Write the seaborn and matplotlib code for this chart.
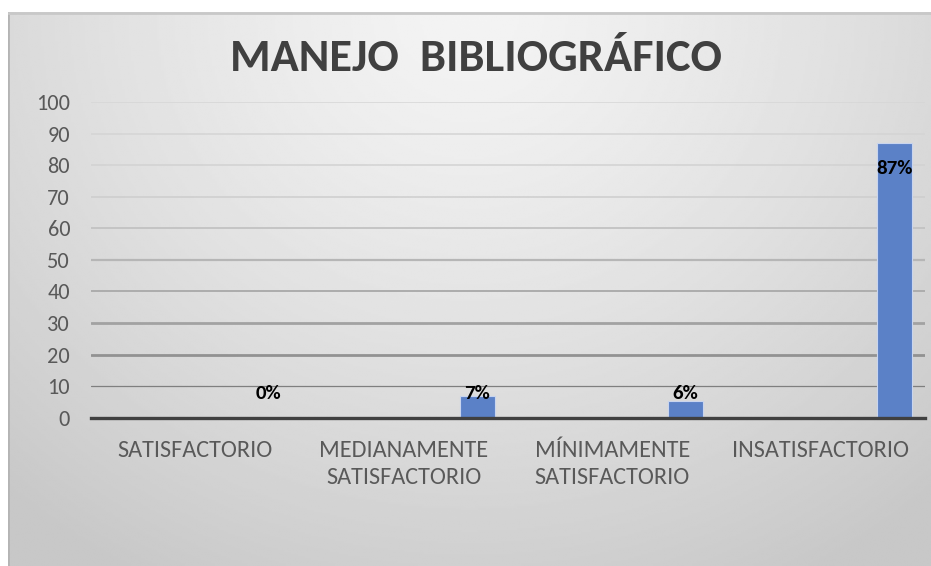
import numpy as np
import pandas as pd
import matplotlib
matplotlib.use('Agg')
import matplotlib.pyplot as plt
import seaborn as sns
from matplotlib import font_manager

# data
categorias = ['SATISFACTORIO', 'MEDIANAMENTE\nSATISFACTORIO',
              'MÍNIMAMENTE\nSATISFACTORIO', 'INSATISFACTORIO']
valores = [0, 7, 5.3, 87]
etiquetas = ['0%', '7%', '6%', '87%']
series = ['Serie 1', 'Serie 2', 'Serie 3', 'Porcentaje']
y_ticks = [0, 10, 20, 30, 40, 50, 60, 70, 80, 90, 100]

df = pd.DataFrame({'categoria': categorias, 'valor': valores,
                   'serie': ['Porcentaje'] * len(categorias)})

sns.set_theme(style='white')
nombres = {f.name for f in font_manager.fontManager.ttflist}
candidatas = ['Carlito', 'Liberation Sans Narrow', 'DejaVu Sans Condensed',
              'Roboto Condensed', 'Open Sans Condensed', 'Lato']
fuente = next((c for c in candidatas if c in nombres), 'DejaVu Sans')
plt.rcParams['font.family'] = [fuente, 'DejaVu Sans']

fig = plt.figure(figsize=(9.31, 5.66), dpi=100)
fig.patch.set_facecolor('white')

# gradient chart background (Excel style)
bg = fig.add_axes([8 / 931, 0, 1 - 8 / 931, (566 - 12) / 566], zorder=0)
xx, yy = np.meshgrid(np.linspace(0, 1, 400), np.linspace(0, 1, 300))
r = np.sqrt(((xx - 0.5) / 0.75) ** 2 + (yy / 1.15) ** 2)
shade = 0.955 - 0.17 * np.clip(r, 0, 1) ** 1.3
bg.imshow(shade, cmap='gray', vmin=0, vmax=1, aspect='auto',
          extent=[0, 1, 1, 0], interpolation='bilinear')
bg.set_xlim(0, 1)
bg.set_ylim(1, 0)
bg.axis('off')
bg.plot([0, 0], [0, 1], color='#b4b4b4', lw=2)
bg.plot([0, 1], [0.002, 0.002], color='#c8c8c8', lw=2)

ax = fig.add_axes([91 / 931, 1 - 417.7 / 566, (925 - 91) / 931, (417.7 - 102) / 566], zorder=1)
ax.set_facecolor('none')

colores = {'Serie 1': '#5b81c7', 'Serie 2': '#ed7d31', 'Serie 3': '#a5a5a5', 'Porcentaje': '#5b81c7'}
sns.barplot(data=df, x='categoria', y='valor', hue='serie', order=categorias,
            hue_order=series, palette=colores, dodge=True, width=0.94, gap=0.285,
            saturation=1, legend=False, edgecolor='#c9d5ee', linewidth=0.8,
            ax=ax, zorder=3)

for p, txt, v in zip(ax.patches, etiquetas, valores):
    ax.text(p.get_x() + p.get_width() / 2, max(v - 8.2, 7.8), txt,
            ha='center', va='center', fontsize=15, fontweight='bold',
            color='black', zorder=5)

ax.set_ylim(0, 100)
ax.set_xlim(-0.5, len(categorias) - 0.5)
ax.set_yticks(y_ticks)
ax.set_xlabel('')
ax.set_ylabel('')
ax.grid(axis='y', zorder=0)
grid_cols = ['#404040', '#7f7f7f', '#929292', '#a2a2a2', '#acacac', '#b6b6b6',
             '#c2c2c2', '#cdcdcd', '#d2d2d2', '#d4d4d4', '#d6d6d6']
grid_lw = [0, 0.9, 2.0, 2.0, 1.4, 1.6, 1.3, 1.1, 1.1, 1.1, 1.1]
for gl, c, w in zip(ax.get_ygridlines(), grid_cols, grid_lw):
    gl.set_color(c)
    gl.set_linewidth(w)

for s in ['top', 'right', 'left']:
    ax.spines[s].set_visible(False)
ax.spines['bottom'].set_color('#404040')
ax.spines['bottom'].set_linewidth(2.4)
ax.spines['bottom'].set_zorder(4)

ax.tick_params(axis='y', length=0, pad=15, labelsize=16, labelcolor='#595959')
ax.tick_params(axis='x', length=0, pad=16, labelsize=17.5, labelcolor='#595959')
for t in ax.get_xticklabels():
    t.set_linespacing(1.35)

fig.text(476 / 931, 1 - 58 / 566, 'MANEJO  BIBLIOGRÁFICO', ha='center', va='center',
         fontsize=33.5, fontweight='bold', color='#404040')

fig.savefig('out.png', dpi=100)
